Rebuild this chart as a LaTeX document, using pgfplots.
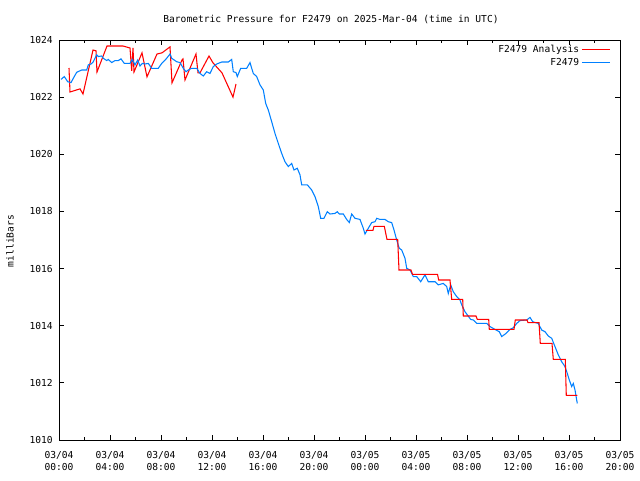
\documentclass[border=0pt]{standalone}
\usepackage{pgfplots}
\pgfplotsset{compat=1.18}
\usepackage{fontspec}
\setmainfont{DejaVu Sans Mono}
\setmonofont{DejaVu Sans Mono}
\definecolor{anared}{RGB}{255,0,0}
\definecolor{obsblue}{RGB}{0,128,255}
\begin{document}
\fontsize{7.2}{9}\selectfont
\begin{tikzpicture}
\path[use as bounding box] (0,0) rectangle (480pt,360pt);
\begin{axis}[
  at={(44.25pt,30pt)}, anchor=south west,
  width=420.75pt, height=300pt, scale only axis,
  xmin=0, xmax=44, ymin=1010, ymax=1024,
  xtick={0,4,8,12,16,20,24,28,32,36,40,44},
  xticklabels={{03/04\\00:00},{03/04\\04:00},{03/04\\08:00},{03/04\\12:00},{03/04\\16:00},{03/04\\20:00},{03/05\\00:00},{03/05\\04:00},{03/05\\08:00},{03/05\\12:00},{03/05\\16:00},{03/05\\20:00}},
  minor x tick num=1,
  ytick={1010,1012,1014,1016,1018,1020,1022,1024},
  yticklabels={1010,1012,1014,1016,1018,1020,1022,1024},
  tick align=inside,
  major tick length=3.75pt, minor tick length=2pt,
  axis line style={line width=0.6pt},
  every tick/.style={line width=0.6pt, black},
  xticklabel style={align=center, anchor=north, inner sep=0pt, yshift=-8pt, font=\fontsize{7.2}{9}\selectfont},
  yticklabel style={anchor=east, inner sep=0pt, xshift=-4.5pt, font=\fontsize{7.2}{9}\selectfont},
  legend plot pos=right,
  legend cell align=right,
  legend style={draw=none, fill=none, at={(rel axis cs:1,1)}, anchor=north east, xshift=-7pt, yshift=-2.4pt, row sep=0pt, inner sep=0pt, font=\fontsize{7.2}{9}\selectfont,
    nodes={inner sep=1.5pt}},
]
\addplot[anared, line width=0.8pt, legend image code/.code={\draw[anared, line width=0.9pt] (0pt,0pt) -- (21pt,0pt);}] coordinates {
(0.784,1023.02) (0.863,1022.18) (1.647,1022.29) (1.882,1022.11) (2.667,1023.65)
(2.902,1023.62) (2.980,1022.88) (3.765,1023.79) (5.020,1023.79) (5.569,1023.72)
(5.702,1022.92) (5.804,1023.72) (5.882,1022.88) (6.510,1023.55) (6.902,1022.71)
(7.137,1022.95) (7.686,1023.51) (8.078,1023.55) (8.706,1023.76) (8.863,1022.50)
(9.647,1023.30) (9.725,1023.34) (9.882,1022.60) (10.745,1023.51) (10.902,1022.85)
(11.059,1022.85) (11.765,1023.44) (12.078,1023.20) (12.784,1022.85) (13.647,1022.00)
(13.882,1022.46)
};
\addlegendentry{F2479 Analysis}
\addplot[obsblue, line width=0.8pt, legend image code/.code={\draw[obsblue, line width=0.9pt] (0pt,0pt) -- (21pt,0pt);}] coordinates {
(0.157,1022.62) (0.416,1022.72) (0.682,1022.54) (0.941,1022.51) (1.122,1022.66)
(1.388,1022.87) (1.780,1022.95) (2.173,1022.95) (2.298,1023.13) (2.510,1023.16)
(2.690,1023.24) (2.957,1023.48) (3.082,1023.42) (3.349,1023.44) (3.475,1023.36)
(3.741,1023.28) (3.867,1023.32) (4.133,1023.21) (4.392,1023.28) (4.651,1023.28)
(4.863,1023.34) (5.122,1023.18) (5.569,1023.18) (5.749,1023.32) (5.961,1023.13)
(6.173,1023.30) (6.353,1023.09) (6.533,1023.18) (6.745,1023.16) (7.004,1023.18)
(7.271,1023.01) (7.529,1023.01) (7.788,1023.01) (8.055,1023.18) (8.447,1023.36)
(8.706,1023.51) (8.839,1023.36) (9.231,1023.24) (9.490,1023.21) (9.749,1023.01)
(9.961,1022.89) (10.141,1022.95) (10.408,1023.01) (10.800,1023.01) (11.059,1022.83)
(11.318,1022.74) (11.584,1022.89) (11.843,1022.83) (12.102,1023.07) (12.369,1023.16)
(12.761,1023.23) (13.278,1023.23) (13.545,1023.32) (13.671,1022.89) (13.882,1022.86)
(13.984,1022.72) (14.251,1023.01) (14.722,1023.01) (14.980,1023.21) (15.114,1023.01)
(15.239,1022.83) (15.506,1022.72) (15.765,1022.43) (16.024,1022.25) (16.212,1021.78)
(16.416,1021.55) (16.682,1021.14) (16.941,1020.73) (17.200,1020.38) (17.467,1020.03)
(17.725,1019.74) (17.984,1019.57) (18.251,1019.68) (18.431,1019.45) (18.690,1019.51)
(18.902,1019.28) (19.035,1018.93) (19.475,1018.93) (19.820,1018.75) (20.078,1018.52)
(20.337,1018.17) (20.525,1017.76) (20.784,1017.76) (21.043,1017.99) (21.255,1017.91)
(21.647,1017.93) (21.827,1017.99) (21.984,1017.91) (22.298,1017.91) (22.565,1017.72)
(22.769,1017.61) (22.957,1017.91) (23.216,1017.76) (23.608,1017.72) (23.867,1017.41)
(24.000,1017.21) (24.259,1017.41) (24.525,1017.61) (24.784,1017.64) (24.918,1017.76)
(25.176,1017.72) (25.569,1017.72) (25.827,1017.64) (26.094,1017.61) (26.275,1017.35)
(26.486,1017.00) (26.690,1016.71) (26.878,1016.65) (27.137,1016.36) (27.271,1016.01)
(27.529,1015.95) (27.788,1015.72) (28.055,1015.72) (28.369,1015.54) (28.706,1015.78)
(28.965,1015.54) (29.490,1015.54) (29.749,1015.43) (30.141,1015.48) (30.408,1015.37)
(30.533,1015.13) (30.722,1015.43) (30.925,1015.19) (31.192,1015.02) (31.451,1014.90)
(31.584,1014.73) (31.843,1014.49) (32.024,1014.38) (32.290,1014.22) (32.494,1014.20)
(32.761,1014.08) (33.545,1014.08) (33.804,1013.97) (34.196,1013.87) (34.533,1013.79)
(34.722,1013.62) (35.059,1013.73) (35.373,1013.87) (35.608,1013.92) (35.898,1014.08)
(36.157,1014.18) (36.682,1014.20) (36.941,1014.29) (37.153,1014.14) (37.592,1014.08)
(37.859,1013.85) (38.118,1013.79) (38.376,1013.64) (38.643,1013.56) (38.902,1013.27)
(39.161,1012.98) (39.427,1012.74) (39.686,1012.57) (39.867,1012.33) (40.024,1012.10)
(40.212,1011.87) (40.337,1011.98) (40.471,1011.75) (40.604,1011.40) (40.651,1011.28)
};
\addlegendentry{F2479}
\addplot[anared, line width=0.8pt, forget plot] coordinates {
(24.078,1017.34) (24.627,1017.34) (24.706,1017.48) (25.514,1017.48) (25.725,1017.02)
(26.565,1017.02) (26.667,1015.95) (27.608,1015.95) (27.725,1015.80) (29.686,1015.80)
(29.780,1015.60) (30.667,1015.60) (30.800,1014.92) (31.663,1014.92) (31.710,1014.34)
(32.706,1014.34) (32.808,1014.22) (33.702,1014.22) (33.749,1013.87) (35.686,1013.87)
(35.788,1014.20) (36.706,1014.20) (36.784,1014.11) (37.647,1014.11) (37.749,1013.38)
(38.667,1013.38) (38.769,1012.82) (39.710,1012.82) (39.788,1011.56) (40.651,1011.56)
};
\end{axis}
\node at (248.25pt,345.75pt) {Barometric Pressure for F2479 on 2025-Mar-04 (time in UTC)};
\node[rotate=90] at (7.5pt,179.25pt) {milliBars};
\end{tikzpicture}
\end{document}
